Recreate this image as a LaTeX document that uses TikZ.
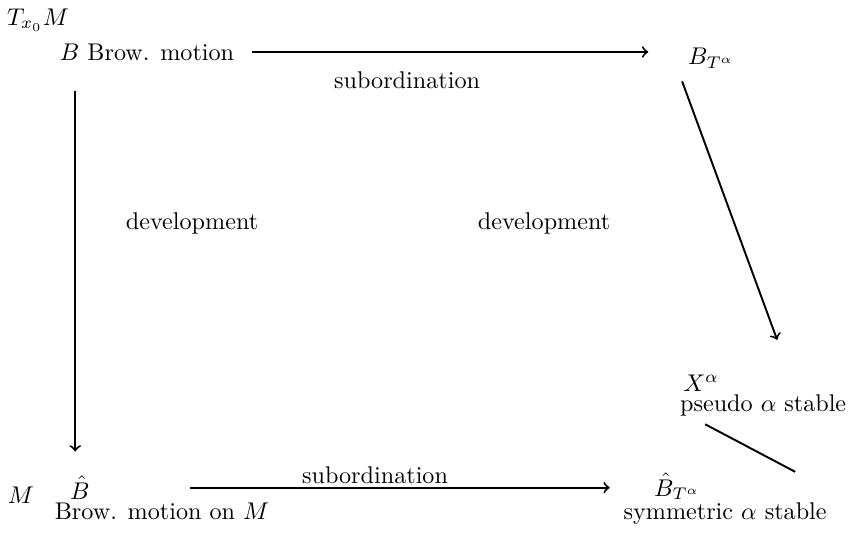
\documentclass[tikz,border=0pt]{standalone}
\usepackage{amsmath}
\usepackage{amssymb}
\usepackage{tikz}

\begin{document}
\begin{tikzpicture}[arr/.style={->, thick}, ln/.style={thick}, tight/.style={inner sep=0pt}]
	\useasboundingbox (0,0) rectangle (12.38,7.74);
	%\draw[help lines] (0,0) grid (12,7);
	\node (T) at (0.553,7.45) {$T_{x_0}M$};
	\node (bm) at (2.139,6.984) {$B$ Brow. motion};
	\node (BT) at (10.345,6.897) {$B_{T^\alpha}$};
	\node (subT) at (5.922,6.577) {subordination};
	\node (devL) at (2.794,4.496) {development};
	\node (devR) at (7.915,4.496) {development};
	\node (Xa) at (10.2,2.168) {$X^\alpha$};
	\node (Xp) at (11.102,1.848) {pseudo $\alpha$ stable};
	\node[anchor=base] (M) at (0.306,0.422) {$M$};
	\node[anchor=base, tight] (Bh) at (1.164,0.48) {$\hat{B}$};
	\node[anchor=base, tight] (BM) at (2.357,0.189) {Brow. motion on $M$};
	\node[anchor=base] (subB) at (5.456,0.713) {subordination};
	\node[anchor=base, tight] (BTh) at (9.85,0.524) {$\hat{B}_{T^\alpha}$};
	\node[anchor=base, tight] (ST) at (10.549,0.189) {symmetric $\alpha$ stable};
	% arrows
	\draw[arr, shorten <=3.7pt, shorten >=13pt] (bm.east) -- (bm.east -| BT.west);
	\draw[arr, shorten <=9pt, shorten >=10pt] ([xshift=-2pt]Bh.north |- bm.south) -- ([xshift=-2pt]Bh.north);
	\draw[arr, shorten <=41.4pt, shorten >=18.2pt] (Bh.east) -- (Bh.east -| BTh.west);
	\draw[arr] ([shift={(-12pt,-2pt)}]BT.south) -- ([shift={(5.8pt,19pt)}]Xp.north);
	\draw[ln] ([xshift=-24pt]Xp.south) -- ([shift={(29pt,12.4pt)}]ST.north);
\end{tikzpicture}
\end{document}
